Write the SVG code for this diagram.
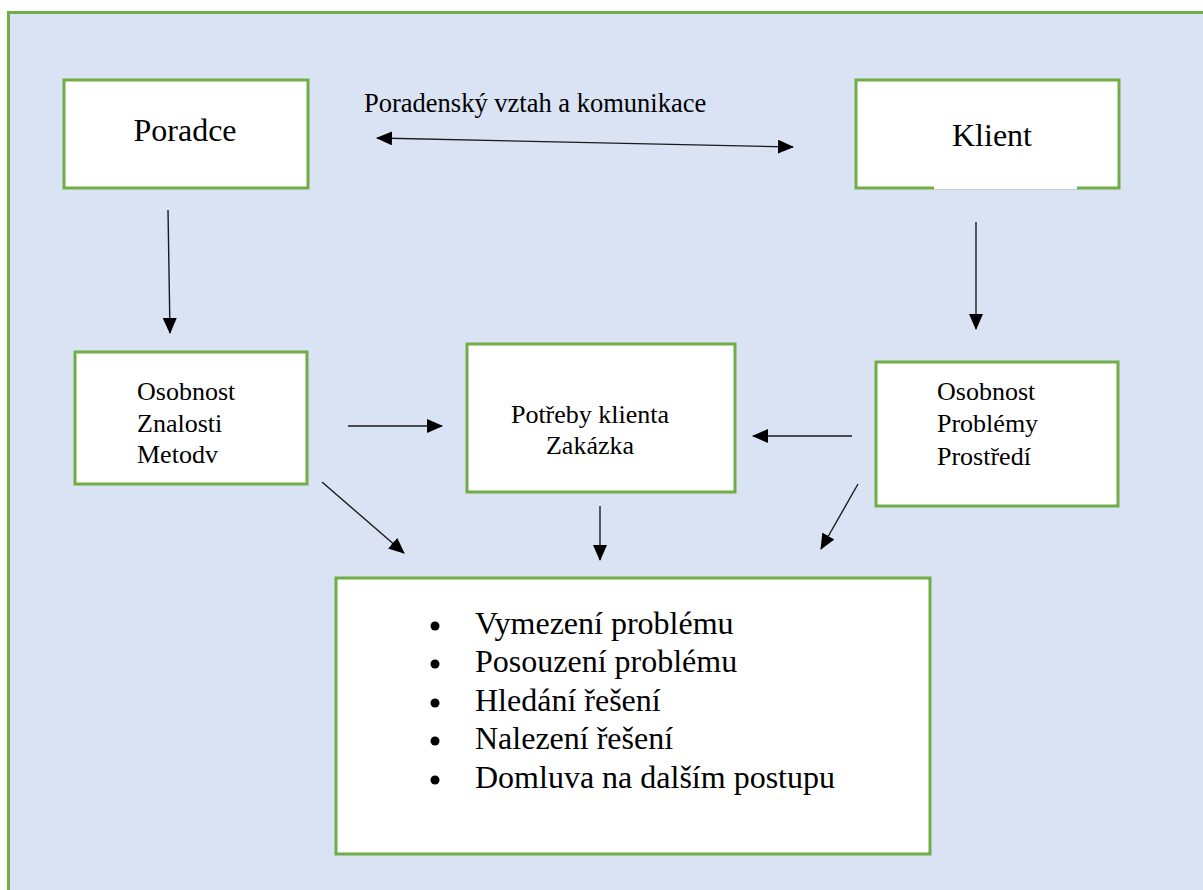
<svg xmlns="http://www.w3.org/2000/svg" width="1203" height="890" viewBox="0 0 1203 890">
  <defs>
    <style>
      .bg { fill: #DAE3F3; stroke: #70AD47; stroke-width: 3; }
      .box { fill: #FFFFFF; stroke: #70AD47; stroke-width: 3; }
      .t { font-family: "Liberation Serif", "Tinos", "DejaVu Serif", serif; fill: #000; }
      .big { font-size: 32px; }
      .mid { font-size: 26px; }
      .lbl { font-size: 26.5px; }
      .list { font-size: 32px; }
      .conn { stroke: #1a1a1a; stroke-width: 1.4; fill: none; marker-end: url(#ah); }
    </style>
    <marker id="ah" viewBox="0 0 16 14" refX="15" refY="7" markerWidth="16" markerHeight="14" markerUnits="userSpaceOnUse" orient="auto-start-reverse">
      <path d="M0,0 L16,7 L0,14 z" fill="#000"/>
    </marker>
  </defs>

  <rect x="0" y="0" width="1203" height="890" fill="#FFFFFF"/>
  <rect class="bg" x="8.5" y="12.5" width="1300" height="1000"/>

  <g id="poradce">
    <rect class="box" x="64" y="80" width="244" height="108"/>
    <text class="t big" x="185" y="141" text-anchor="middle">Poradce</text>
  </g>

  <g id="klient">
    <rect class="box" x="856" y="80" width="263" height="108"/>
    <rect x="934" y="186" width="143" height="4" fill="#FFFFFF"/>
    <line x1="934" y1="189.5" x2="1077" y2="189.5" stroke="#C8D5C6" stroke-width="1"/>
    <text class="t big" x="992" y="146" text-anchor="middle">Klient</text>
  </g>

  <g id="poradce-detail">
    <rect class="box" x="75" y="352" width="232" height="132"/>
    <text class="t mid" x="137" y="400">Osobnost</text>
    <text class="t mid" x="137" y="432">Znalosti</text>
    <text class="t mid" x="137" y="463">Metodv</text>
  </g>

  <g id="potreby">
    <rect class="box" x="467" y="344" width="268" height="148"/>
    <text class="t mid" x="590" y="423" text-anchor="middle">Potřeby klienta</text>
    <text class="t mid" x="590" y="454" text-anchor="middle">Zakázka</text>
  </g>

  <g id="klient-detail">
    <rect class="box" x="876" y="362" width="242" height="144"/>
    <text class="t mid" x="937" y="400">Osobnost</text>
    <text class="t mid" x="937" y="432">Problémy</text>
    <text class="t mid" x="937" y="465">Prostředí</text>
  </g>

  <g id="postup">
    <rect class="box" x="336" y="578" width="594" height="276"/>
    <g class="t list">
      <circle cx="435" cy="626" r="4.5" fill="#000"/>
      <text x="475" y="634">Vymezení problému</text>
      <circle cx="435" cy="664" r="4.5" fill="#000"/>
      <text x="475" y="672">Posouzení problému</text>
      <circle cx="435" cy="703" r="4.5" fill="#000"/>
      <text x="475" y="711">Hledání řešení</text>
      <circle cx="435" cy="741" r="4.5" fill="#000"/>
      <text x="475" y="749">Nalezení řešení</text>
      <circle cx="435" cy="780" r="4.5" fill="#000"/>
      <text x="475" y="788">Domluva na dalším postupu</text>
    </g>
  </g>

  <g id="label">
    <text class="t lbl" x="364" y="112">Poradenský vztah a komunikace</text>
  </g>

  <g id="connectors">
    <line class="conn" x1="377" y1="138" x2="793" y2="147" marker-start="url(#ah)"/>
    <line class="conn" x1="168" y1="210" x2="170" y2="333"/>
    <line class="conn" x1="976" y1="222" x2="976" y2="329"/>
    <line class="conn" x1="348" y1="426" x2="442" y2="426"/>
    <line class="conn" x1="852" y1="436" x2="753" y2="436"/>
    <line class="conn" x1="600" y1="506" x2="600" y2="560"/>
    <line class="conn" x1="322" y1="482" x2="404" y2="553"/>
    <line class="conn" x1="858" y1="484" x2="821" y2="549"/>
  </g>
</svg>
